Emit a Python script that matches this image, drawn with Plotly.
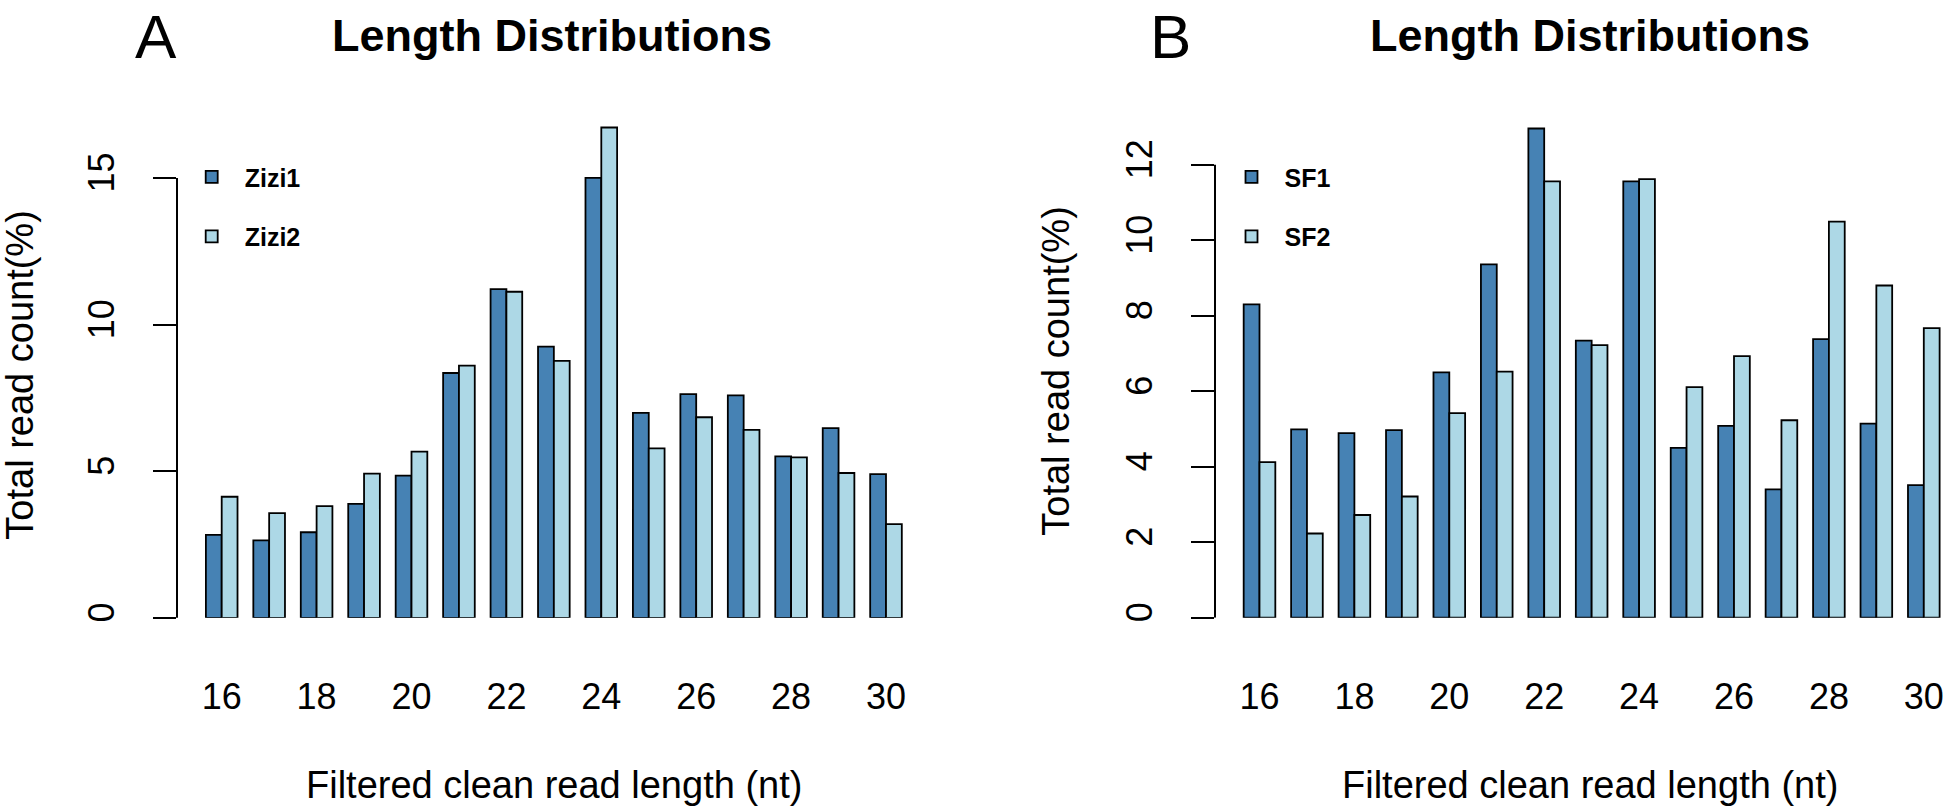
import plotly.graph_objects as go

# ---------------- data ----------------
lengths = list(range(16, 31))
zizi1 = [2.83, 2.64, 2.92, 3.89, 4.85, 8.35, 11.21, 9.25, 15.00, 6.99, 7.63, 7.59, 5.51, 6.47, 4.90]
zizi2 = [4.13, 3.57, 3.81, 4.92, 5.67, 8.60, 11.12, 8.76, 16.72, 5.78, 6.84, 6.41, 5.47, 4.94, 3.20]
sf1 = [8.30, 4.99, 4.89, 4.97, 6.50, 9.36, 12.96, 7.34, 11.56, 4.50, 5.08, 3.40, 7.38, 5.14, 3.51]
sf2 = [4.12, 2.23, 2.72, 3.21, 5.42, 6.52, 11.56, 7.22, 11.62, 6.11, 6.93, 5.23, 10.49, 8.80, 7.67]
x_ticks = [16, 18, 20, 22, 24, 26, 28, 30]
y_ticks_a = [0, 5, 10, 15]
y_ticks_b = [0, 2, 4, 6, 8, 10, 12]

# ---------------- layout constants (pixels) ----------------
W, H = 1946, 812
FONT = "Liberation Sans, Arial, Helvetica, sans-serif"
DARK = "#4682B4"
LIGHT = "#ADD8E6"
PITCH = 47.45          # px per length unit
TOP_PX = 95

panels = {
    "A": dict(axis_x=177.0, c16=221.7, right=935.0, y0=621.7, unit=29.51),
    "B": dict(axis_x=1215.0, c16=1259.5, right=1946.0, y0=621.5, unit=37.98),
}

def xdom(p):
    return [p["axis_x"] / W, p["right"] / W]

def xrange_(p):
    lo = 16 + (p["axis_x"] - p["c16"]) / PITCH
    hi = 16 + (p["right"] - p["c16"]) / PITCH
    return [lo, hi]

def ydom(p):
    return [(H - p["y0"]) / H, (H - TOP_PX) / H]

def yrange_(p):
    return [0, (p["y0"] - TOP_PX) / p["unit"]]

fig = go.Figure()

line = dict(color="black", width=1.8)
fig.add_trace(go.Bar(x=lengths, y=zizi1, name="Zizi1", marker=dict(color=DARK, line=line),
                     xaxis="x", yaxis="y", legend="legend", legendgroup="a1"))
fig.add_trace(go.Bar(x=lengths, y=zizi2, name="Zizi2", marker=dict(color=LIGHT, line=line),
                     xaxis="x", yaxis="y", legend="legend", legendgroup="a2"))
fig.add_trace(go.Bar(x=lengths, y=sf1, name="SF1", marker=dict(color=DARK, line=line),
                     xaxis="x2", yaxis="y2", legend="legend2", legendgroup="b1"))
fig.add_trace(go.Bar(x=lengths, y=sf2, name="SF2", marker=dict(color=LIGHT, line=line),
                     xaxis="x2", yaxis="y2", legend="legend2", legendgroup="b2"))

pa, pb = panels["A"], panels["B"]

xaxis_common = dict(
    showline=False, showgrid=False, zeroline=False, ticks="",
    tickvals=x_ticks, ticktext=[str(v) for v in x_ticks],
    tickfont=dict(family=FONT, size=36, color="black"),
    ticklabelstandoff=54,
)
yaxis_common = dict(
    showline=False, showgrid=False, zeroline=False,
    ticks="outside", ticklen=23, tickwidth=2, tickcolor="black",
    tickangle=-90, tickfont=dict(family=FONT, size=36, color="black"),
    ticklabelstandoff=25,
)

legend_common = dict(
    xanchor="left", yanchor="top", bgcolor="rgba(0,0,0,0)",
    itemwidth=56, tracegroupgap=24, traceorder="grouped",
    font=dict(family=FONT, size=25, color="black", weight="bold"),
)

fig.update_layout(
    width=W, height=H, autosize=False,
    margin=dict(l=0, r=0, t=0, b=0),
    paper_bgcolor="white", plot_bgcolor="white",
    barmode="group", bargap=1/3, bargroupgap=0,
    xaxis=dict(domain=xdom(pa), range=xrange_(pa), anchor="y", **xaxis_common),
    yaxis=dict(domain=ydom(pa), range=yrange_(pa), anchor="x", tickvals=y_ticks_a, **yaxis_common),
    xaxis2=dict(domain=xdom(pb), range=xrange_(pb), anchor="y2", **xaxis_common),
    yaxis2=dict(domain=ydom(pb), range=yrange_(pb), anchor="x2", tickvals=y_ticks_b, **yaxis_common),
    legend=dict(x=178.7 / W, y=(H - 155) / H, **legend_common),
    legend2=dict(x=1218.5 / W, y=(H - 155) / H, **legend_common),
    showlegend=True,
)

# y axis lines spanning first to last tick (R style)
fig.add_shape(type="line", xref="x domain", yref="y", x0=0, x1=0, y0=y_ticks_a[0], y1=y_ticks_a[-1],
              line=dict(color="black", width=2))
fig.add_shape(type="line", xref="x2 domain", yref="y2", x0=0, x1=0, y0=y_ticks_b[0], y1=y_ticks_b[-1],
              line=dict(color="black", width=2))

def ann(text, x, y, size, bold=False, angle=0, yanchor="middle"):
    fig.add_annotation(text=text, x=x / W, y=(H - y) / H, xref="paper", yref="paper",
                       xanchor="center", yanchor=yanchor, showarrow=False, textangle=angle,
                       font=dict(family=FONT, size=size, color="black",
                                 weight="bold" if bold else "normal"))

ann("A", 155.5, 0, 62, yanchor="top")
ann("B", 1170, 0, 62, yanchor="top")
ann("Length Distributions", 551.5, 36, 45, bold=True)
ann("Length Distributions", 1590, 36, 45, bold=True)
ann("Filtered clean read length (nt)", 553.5, 790, 38)
ann("Filtered clean read length (nt)", 1590, 790, 38)
ann("Total read count(%)", 20, 377, 38, angle=-90)
ann("Total read count(%)", 1056, 373, 38, angle=-90)

fig.write_html("out.html", config={"displayModeBar": False},
               post_script="document.body.style.margin='0';document.body.style.overflow='hidden';")
